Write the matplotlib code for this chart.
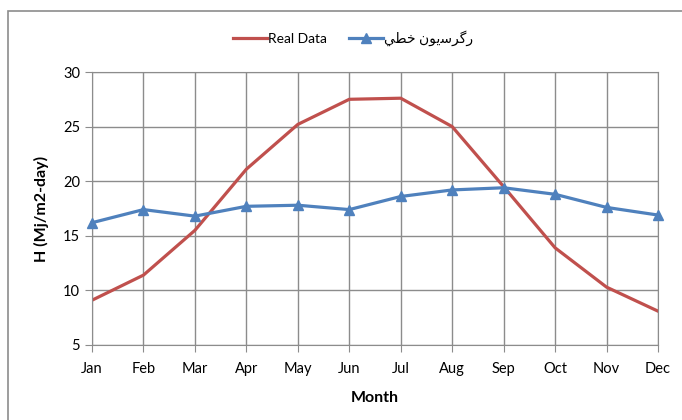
import matplotlib
matplotlib.use('Agg')
import matplotlib.pyplot as plt
from matplotlib.patches import Rectangle

months = ['Jan', 'Feb', 'Mar', 'Apr', 'May', 'Jun',
          'Jul', 'Aug', 'Sep', 'Oct', 'Nov', 'Dec']
real_data = [9.1, 11.4, 15.5, 21.1, 25.2, 27.5, 27.6, 25.0, 19.5, 13.9, 10.3, 8.1]
regression = [16.2, 17.4, 16.8, 17.7, 17.8, 17.4, 18.6, 19.2, 19.4, 18.8, 17.6, 16.9]

# "رگرسیون خطي" in shaped presentation forms, visual (left-to-right) order,
# since matplotlib does no Arabic shaping / bidi
reg_label = '\uFEF2\uFEC4\uFEA7 \uFEE5\uFEEE\uFBFE\uFEB3\uFEAE\uFB94\uFEAD'

plt.rcParams['font.family'] = ['Lato', 'DejaVu Sans']

fig = plt.figure(figsize=(6.82, 4.20), dpi=100)
ax = fig.add_axes([92 / 682, 75 / 420, 566 / 682, 273 / 420])

# outer chart border (cut off at right and bottom like the reference)
fig.patches.append(Rectangle((8 / 682, -0.1), 1.2, (420 - 11) / 420 + 0.1,
                             transform=fig.transFigure, fill=False,
                             edgecolor='#8c8c8c', linewidth=1.2))

x = range(len(months))
ax.plot(x, real_data, color='#C0504D', linewidth=2.3, label='Real Data')
ax.plot(x, regression, color='#4F81BD', linewidth=2.3, marker='^',
        markersize=7, label=reg_label, clip_on=False, zorder=3)

ax.set_xlim(0, 11)
ax.set_ylim(5, 30)
ax.set_xticks(list(x))
ax.set_xticklabels(months)
ax.set_yticks([5, 10, 15, 20, 25, 30])
ax.grid(True, color='#8c8c8c', linewidth=1)
ax.set_axisbelow(True)
for s in ax.spines.values():
    s.set_color('#8c8c8c')
ax.tick_params(colors='#8c8c8c', labelcolor='black', labelsize=10.5,
               length=5, direction='out')
ax.tick_params(axis='x', pad=7)

ax.set_xlabel('Month', fontsize=11.5, fontweight='bold', labelpad=11)
ax.set_ylabel('H (Mj/m2-day)', fontsize=11.5, fontweight='bold', labelpad=10)

fig.legend(loc='center', bbox_to_anchor=(0.518, (420 - 38) / 420), ncol=2,
           frameon=False, fontsize=10, handlelength=2.4, handletextpad=0.1,
           columnspacing=1.6)

fig.savefig('out.png', dpi=100)
